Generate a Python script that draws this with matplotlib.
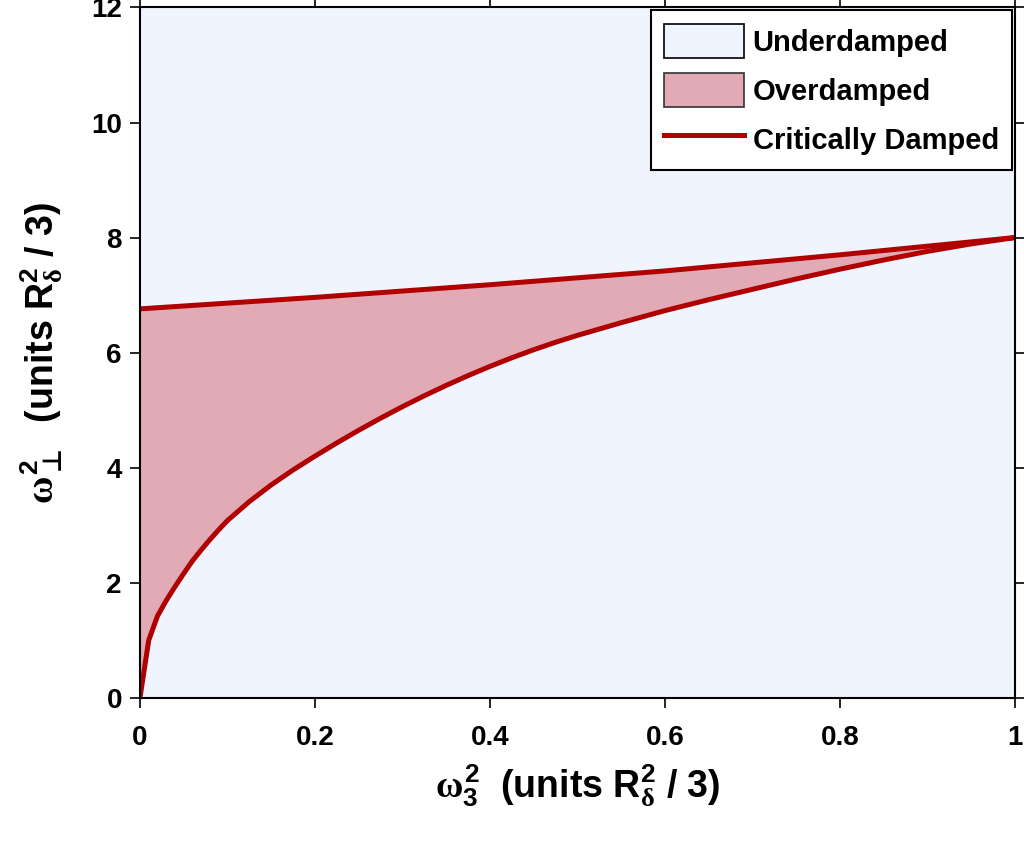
import numpy as np
import matplotlib
matplotlib.use("Agg")
import matplotlib.pyplot as plt
from matplotlib.patches import Patch
from matplotlib.lines import Line2D

# critically damped boundary, lower branch
x_lower = [0.0, 0.01, 0.02, 0.03, 0.04, 0.05, 0.06, 0.07, 0.08, 0.09, 0.10,
           0.125, 0.15, 0.175, 0.20, 0.225, 0.25, 0.275, 0.30, 0.325, 0.35,
           0.375, 0.40, 0.425, 0.45, 0.475, 0.50, 0.55, 0.60, 0.65, 0.70,
           0.75, 0.80, 0.85, 0.90, 0.95, 1.0]
y_lower = [0.0, 1.00, 1.42, 1.69, 1.93, 2.16, 2.38, 2.57, 2.75, 2.92, 3.08,
           3.41, 3.70, 3.96, 4.20, 4.43, 4.65, 4.86, 5.06, 5.25, 5.43,
           5.60, 5.76, 5.91, 6.05, 6.18, 6.30, 6.52, 6.73, 6.92, 7.10,
           7.28, 7.45, 7.61, 7.76, 7.89, 8.0]

# upper branch
x_upper = [0.0, 0.1, 0.2, 0.3, 0.4, 0.5, 0.6, 0.7, 0.8, 0.9, 1.0]
y_upper = [6.76, 6.86, 6.96, 7.07, 7.18, 7.30, 7.42, 7.56, 7.70, 7.85, 8.0]

labels = ["Underdamped", "Overdamped", "Critically Damped"]
xticks = [0, 0.2, 0.4, 0.6, 0.8, 1]
yticks = [0, 2, 4, 6, 8, 10, 12]

blue = "#F0F4FF"
pink = "#E1AAB5"
red = "#B00000"

plt.rcParams["font.family"] = ["Liberation Sans", "DejaVu Sans"]
plt.rcParams["font.weight"] = "bold"
plt.rcParams["mathtext.fontset"] = "custom"
plt.rcParams["mathtext.rm"] = "Liberation Sans:bold"
plt.rcParams["mathtext.bf"] = "Liberation Sans:bold"
plt.rcParams["mathtext.it"] = "Liberation Serif"
plt.rcParams["mathtext.sf"] = "DejaVu Sans"
plt.rcParams["mathtext.fallback"] = "stix"

fig = plt.figure(figsize=(10.24, 8.41), dpi=100)
ax = fig.add_axes([0.1367, 0.1704, 0.9912 - 0.1367, 0.9911 - 0.1704])
ax.set_facecolor(blue)

poly_x = np.concatenate([x_lower, x_upper[::-1]])
poly_y = np.concatenate([y_lower, y_upper[::-1]])
ax.fill(poly_x, poly_y, color=pink, lw=0)
ax.plot(x_lower, y_lower, color=red, lw=3.6, solid_joinstyle="round")
ax.plot(x_upper, y_upper, color=red, lw=3.6)

ax.set_xlim(0, 1)
ax.set_ylim(0, 12)
ax.set_xticks(xticks)
ax.set_xticklabels(["%g" % t for t in xticks])
ax.set_yticks(yticks)
ax.tick_params(direction="out", length=7, width=1.2, labelsize=20,
               top=True, right=True, pad=6)
ax.tick_params(axis="x", pad=13)
for s in ax.spines.values():
    s.set_linewidth(1.5)

ax.set_xlabel(r"$\omega_3^2$  (units R$_\delta^2$ / 3)", fontsize=27,
              fontweight="bold", labelpad=8)
ax.set_ylabel(r"$\omega_{\mathsf{\bot}}^2$  (units R$_\delta^2$ / 3)",
              fontsize=27, fontweight="bold", labelpad=19)

handles = [Patch(facecolor=blue, edgecolor="black", lw=1.2),
           Patch(facecolor=pink, edgecolor="#333333", lw=1.2),
           Line2D([], [], color=red, lw=3.6)]
leg = ax.legend(handles, labels, loc="upper right", bbox_to_anchor=(1, 1),
                borderaxespad=0.1, fontsize=21, fancybox=False,
                edgecolor="black", framealpha=1, handlelength=2.75,
                handleheight=1.45, labelspacing=0.5, handletextpad=0.3,
                borderpad=0.45)
leg.get_frame().set_linewidth(1.5)

fig.savefig("out.png", dpi=100)
